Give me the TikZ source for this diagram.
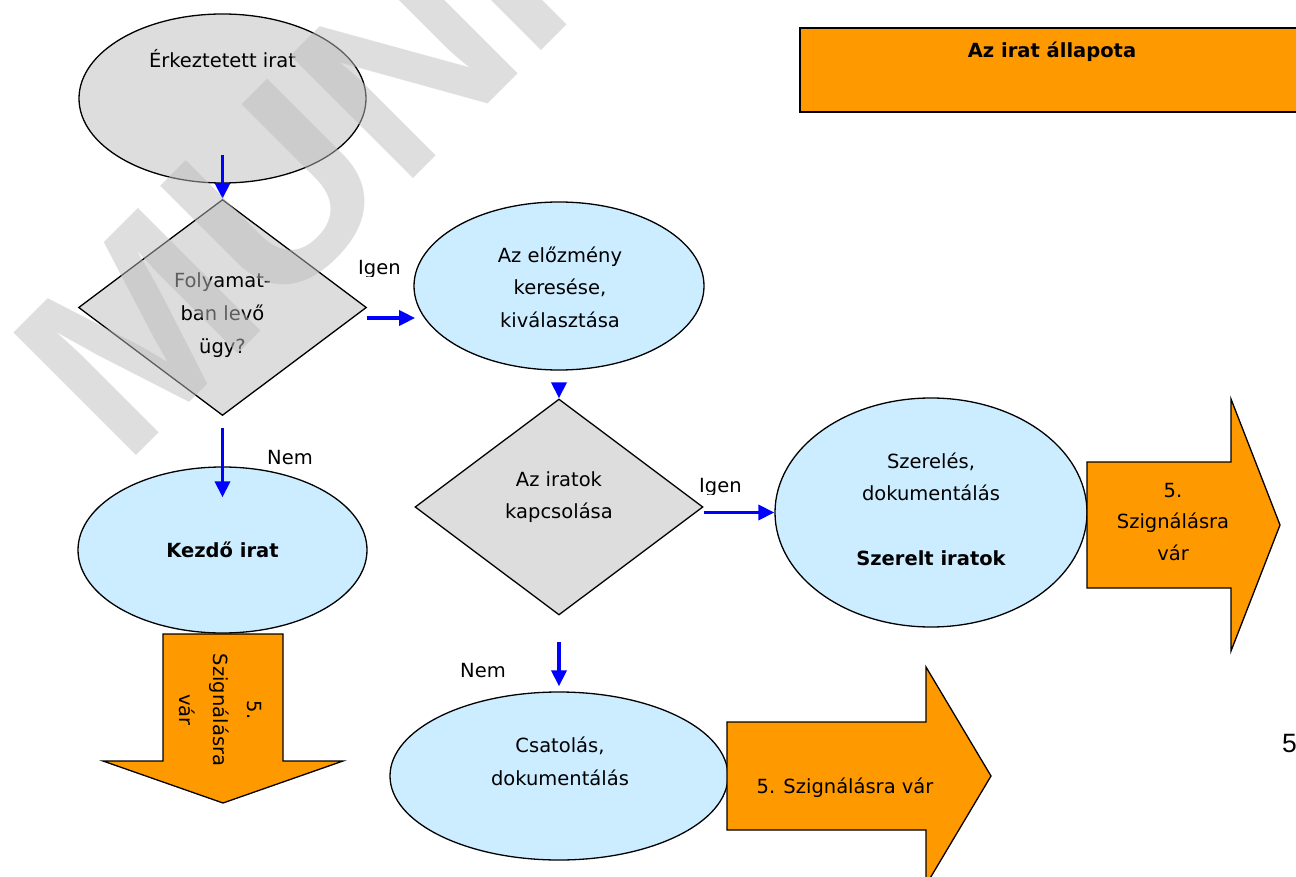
\documentclass[tikz,border=0pt]{standalone}
\usepackage{fontspec}
\setmainfont{DejaVu Sans}
\newfontfamily\wmfont{Liberation Sans}
\usetikzlibrary{shapes.geometric,arrows.meta}
\definecolor{shgray}{RGB}{221,221,221}
\definecolor{shblue}{RGB}{204,236,255}
\definecolor{shorange}{RGB}{255,153,0}
\definecolor{arrblue}{RGB}{0,0,255}
\definecolor{wmgray}{RGB}{189,189,189}
\begin{document}
\begin{tikzpicture}[x=1pt,y=-1pt,
  every node/.style={font=\fontsize{19.5}{32}\selectfont},
  txt/.style={anchor=base,inner sep=0pt,text=black},
  grayell/.style={ellipse,draw=black,line width=1.3pt,fill=shgray,inner sep=0pt},
  blueell/.style={ellipse,draw=black,line width=1.3pt,fill=shblue,inner sep=0pt},
  decision/.style={diamond,draw=black,line width=1.3pt,fill=shgray,inner sep=0pt},
  conn/.style={draw=arrblue,line width=3.5pt,-{Triangle[length=16pt,width=15pt]}},
  statearrow/.style={draw=black,line width=1.3pt,fill=shorange,line join=miter}
]
\useasboundingbox (0,0) rectangle (1296,877);
\clip (0,0) rectangle (1296,877);

% shapes
\node[grayell,minimum width=287pt,minimum height=169pt] (E1) at (222.5,98.5) {};
\node[decision,minimum width=288pt,minimum height=216pt] (D1) at (222.5,307.5) {};
\node[blueell,minimum width=290pt,minimum height=168pt] (E2) at (559,286) {};
\node[decision,minimum width=288pt,minimum height=216pt] (D2) at (559,507) {};
\node[blueell,minimum width=312pt,minimum height=229pt] (E3) at (931,512.5) {};
\node[blueell,minimum width=289pt,minimum height=166pt] (E4) at (222.5,550) {};
\node[blueell,minimum width=338pt,minimum height=168pt] (E5) at (559,776) {};

% state arrows
\draw[statearrow] (1087,462) -- (1231,462) -- (1231,399) -- (1280,525) -- (1231,651) -- (1231,588) -- (1087,588) -- cycle;
\draw[statearrow] (163,634) -- (283,634) -- (283,761) -- (343,761) -- (223,803) -- (103,761) -- (163,761) -- cycle;
\draw[statearrow] (727,722) -- (926,722) -- (926,667) -- (991,776) -- (926,885) -- (926,830) -- (727,830) -- cycle;

% state box
\node[draw=black,line width=1.8pt,fill=shorange,anchor=north west,minimum width=520pt,minimum height=84pt,inner sep=0pt] (state) at (799,27) {};
\node[txt,font=\bfseries\fontsize{19.5}{32}\selectfont] (statet) at (1052,58) {Az irat állapota};

% texts
\node[txt] (e1t) at (222.5,68) {Érkeztetett irat};
\node[txt] (d1a) at (222.5,288) {Folyamat-};
\node[txt] (d1b) at (222.5,320) {ban levő};
\node[txt] (d1c) at (222.5,353) {ügy?};
\node[txt] (e2a) at (560,263) {Az előzmény};
\node[txt] (e2b) at (560,295) {keresése,};
\node[txt] (e2c) at (560,327) {kiválasztása};
\node[txt] (d2a) at (559,486) {Az iratok};
\node[txt] (d2b) at (559,518) {kapcsolása};
\node[txt] (e3a) at (931,468) {Szerelés,};
\node[txt] (e3b) at (931,500) {dokumentálás};
\node[txt,font=\bfseries\fontsize{19.5}{32}\selectfont] (e3c) at (931,565) {Szerelt iratok};
\node[txt,font=\bfseries\fontsize{19.5}{32}\selectfont] (e4t) at (222.5,557) {Kezdő irat};
\node[txt] (e5a) at (560,752) {Csatolás,};
\node[txt] (e5b) at (560,785) {dokumentálás};
\node[txt] (a1a) at (1173,497) {5.};
\node[txt] (a1b) at (1173,528) {Szignálásra};
\node[txt] (a1c) at (1173,560) {vár};
\node[txt] (a2t) at (845,793) {5. Szignálásra vár};
\node[rotate=-90,align=center,inner sep=0pt,font=\fontsize{19.5}{34}\selectfont] (a0t) at (220,710) {5.\\Szignálásra\\vár};

% labels (the two "Igen" labels are cut just below the baseline, as in the original)
\begin{scope}
  \clip (350,250) rectangle (420,277);
  \node[txt,anchor=base west] (igen1) at (358,275) {Igen};
\end{scope}
\begin{scope}
  \clip (690,467) rectangle (760,494);
  \node[txt,anchor=base west] (igen2) at (699,492) {Igen};
\end{scope}
\node[txt,anchor=base west] (nem1) at (267,464) {Nem};
\node[txt,anchor=base west] (nem2) at (460,677) {Nem};
\node[txt,anchor=base west,font=\wmfont\fontsize{26.5}{30}\selectfont] (pg) at (1282,752) {5};

% connectors
\draw[conn] ([yshift=29pt]E1.south) -- (D1.north);
\draw[conn] ([yshift=-10.5pt]D1.east) -- ++(48,0);
\draw[conn] ([yshift=-12pt]E2.south) -- (D2.north);
\draw[conn] (D2.east |- E3.west) -- (E3.west);
\draw[conn] ([yshift=-12pt]D1.south) -- ([yshift=-31pt]E4.north);
\draw[conn] ([yshift=-26pt]D2.south) -- ([yshift=5pt]E5.north);

% watermark
\node[rotate=45,anchor=base west,inner sep=0pt,text=wmgray,text opacity=0.5,font=\wmfont\bfseries\fontsize{252}{252}\selectfont] (wm) at (124,468) {MUNI};
\end{tikzpicture}
\end{document}
